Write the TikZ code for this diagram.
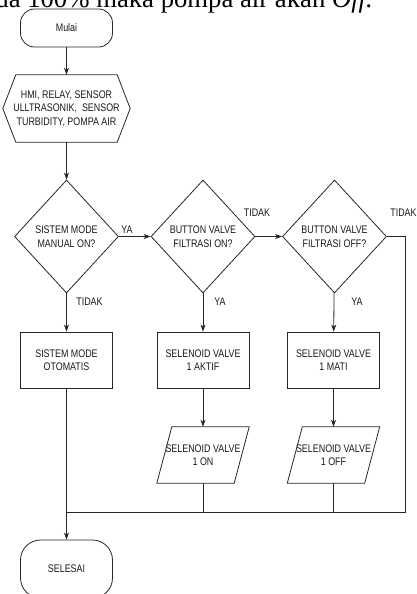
\documentclass[tikz,border=0pt]{standalone}
\usepackage{fontspec}
\setmainfont[FakeStretch=0.81]{Liberation Sans}
\newfontfamily\bodyserif{Liberation Serif}
\usetikzlibrary{shapes.geometric,arrows.meta}

\tikzset{
  flowline/.style={line width=0.8pt, draw=black!85},
  flowarrow/.style={flowline, -{Stealth[length=7pt,width=5pt,inset=2pt]}},
  txt/.style={font=\fontsize{11}{13.5}\selectfont, align=center, inner sep=0pt, text=black!90},
  terminal/.style={txt, draw, line width=0.8pt, draw=black!85, rectangle, minimum width=92pt, minimum height=38pt},
  procbox/.style={txt, draw, line width=0.8pt, draw=black!85, rectangle, minimum width=92pt, minimum height=56pt},
  decision/.style={txt, draw, line width=0.8pt, draw=black!85, diamond, minimum width=104pt, minimum height=113pt},
  shell/.style={txt, rectangle, minimum width=92pt, minimum height=56pt},
  branchlabel/.style={font=\fontsize{11}{13}\selectfont, inner sep=0pt, text=black!90},
}

\begin{document}
\begin{tikzpicture}[x=1pt, y=-1pt]
\useasboundingbox (0,0) rectangle (416,594);
\clip (0,0) rectangle (416,594);

% line of body text above the chart
\node[anchor=base east, inner sep=0pt, font=\bodyserif\fontsize{26.7}{30}\selectfont]
  (caption) at (373,7.5) {pada 100\% maka pompa air akan \textit{Off.}};

% shapes
\node[terminal, rounded corners=14pt] (start) at (66.5,28) {Mulai};
\node[txt, rectangle, minimum width=127pt, minimum height=67pt] (init) at (66.5,108.5)
  {HMI, RELAY, SENSOR\\ULLTRASONIK,\ \ SENSOR\\TURBIDITY, POMPA AIR};
\draw[flowline] (init.west) -- ([xshift=13pt]init.north west) -- ([xshift=-13pt]init.north east)
  -- (init.east) -- ([xshift=-13pt]init.south east) -- ([xshift=13pt]init.south west) -- cycle;

\node[decision] (q1) at (66.5,236.5) {SISTEM MODE\\MANUAL ON?};
\node[decision] (q2) at (203,236.5) {BUTTON VALVE\\FILTRASI ON?};
\node[decision] (q3) at (334.5,236.5) {BUTTON VALVE\\FILTRASI OFF?};

\node[procbox] (auto) at (66.5,360) {SISTEM MODE\\OTOMATIS};
\node[procbox] (on) at (203,360) {SELENOID VALVE\\1 AKTIF};
\node[procbox] (off) at (333.5,360) {SELENOID VALVE\\1 MATI};

\node[shell] (outon) at (203,455) {SELENOID VALVE\\1 ON};
\draw[flowline] ([xshift=15pt]outon.north west) -- (outon.north east)
  -- ([xshift=-15pt]outon.south east) -- (outon.south west) -- cycle;
\node[shell] (outoff) at (333.5,455) {SELENOID VALVE\\1 OFF};
\draw[flowline] ([xshift=15pt]outoff.north west) -- (outoff.north east)
  -- ([xshift=-15pt]outoff.south east) -- (outoff.south west) -- cycle;

\node[terminal, minimum height=58pt, rounded corners=20pt] (stop) at (66.5,569) {SELESAI};

% junction points of the return line
\coordinate (join) at (66.5,512);
\coordinate (rjoin) at (405,512);

% connectors
\draw[flowarrow] (start) -- (init);
\draw[flowarrow] (init) -- (q1);
\draw[flowarrow] (q1) -- (q2);
\draw[flowarrow] (q2) -- (q3);
\draw[flowarrow] (q1) -- (auto);
\draw[flowarrow] (q2) -- (on);
\draw[flowarrow] (q3) -- (off);
\draw[flowarrow] (on) -- (outon.north);
\draw[flowarrow] (off) -- (outoff.north);
\draw[flowline] (q3.east) -| (rjoin) -- (join);
\draw[flowline] (outon.south) -- (outon.south |- join);
\draw[flowline] (outoff.south) -- (outoff.south |- join);
\draw[flowarrow] (auto) -- (stop);

% branch labels
\node[branchlabel] (ya1) at (127,230) {YA};
\node[branchlabel] (tidak2) at (257,213) {TIDAK};
\node[branchlabel] (tidak3) at (403.5,213) {TIDAK};
\node[branchlabel] (tidak1) at (89.5,302) {TIDAK};
\node[branchlabel] (ya2) at (220,302) {YA};
\node[branchlabel] (ya3) at (357,302) {YA};
\end{tikzpicture}
\end{document}
